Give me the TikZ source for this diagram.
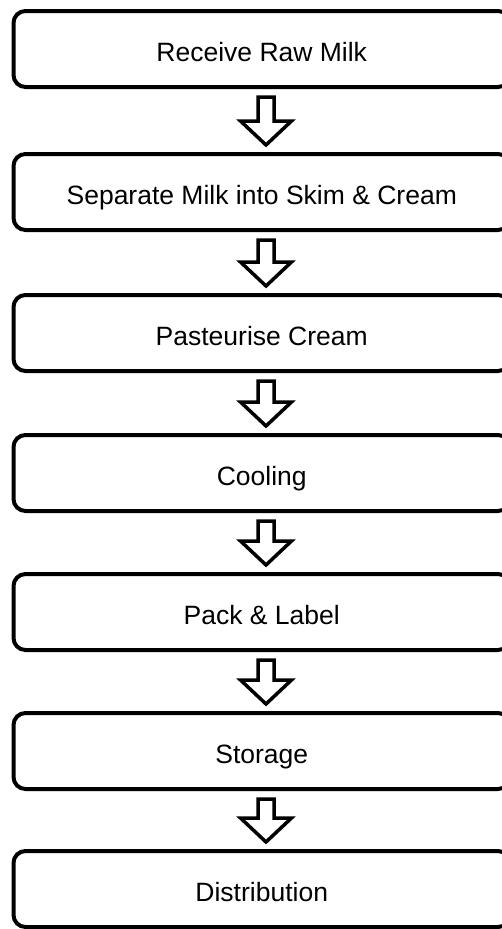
\documentclass[tikz,border=0pt]{standalone}
\usepackage{fontspec}
\setmainfont{Liberation Sans}
\usetikzlibrary{calc}
\tikzset{
  stepbox/.style={draw=black, line width=4pt, rounded corners=12pt, minimum width=496.5pt, minimum height=76pt, font=\fontsize{26.5}{30}\selectfont, inner sep=0pt, text height=25pt, text depth=0pt},
  blockarr/.style={draw=black, line width=3.5pt, line join=miter, fill=white}
}
\newcommand\blockarrow[2]{%
  \draw[blockarr] ($(#1.south)+(-3.75,8)$) -- ($(#1.south)+(12.25,8)$) -- ($(#2.north)+(12.25,-31)$) -- ($(#2.north)+(29.75,-31)$) -- ($(#2.north)+(4.25,-7)$) -- ($(#2.north)+(-21.25,-31)$) -- ($(#2.north)+(-3.75,-31)$) -- cycle;}
\begin{document}
\begin{tikzpicture}[x=1pt,y=-1pt]
\useasboundingbox (0,0) rectangle (502,929);
\node[stepbox] (s1) at (261.75,49) {Receive Raw Milk};
\node[stepbox] (s2) at (261.75,192) {Separate Milk into Skim \& Cream};
\node[stepbox] (s3) at (261.75,333) {Pasteurise Cream};
\node[stepbox] (s4) at (261.75,473) {Cooling};
\node[stepbox] (s5) at (261.75,612) {Pack \& Label};
\node[stepbox] (s6) at (261.75,751) {Storage};
\node[stepbox] (s7) at (261.75,889) {Distribution};
\blockarrow{s1}{s2}
\blockarrow{s2}{s3}
\blockarrow{s3}{s4}
\blockarrow{s4}{s5}
\blockarrow{s5}{s6}
\blockarrow{s6}{s7}
\end{tikzpicture}
\end{document}
